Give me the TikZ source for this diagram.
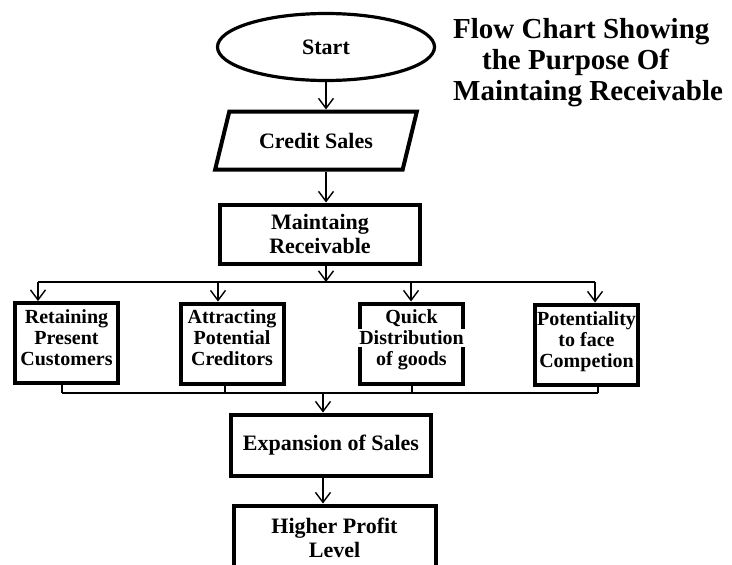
\documentclass[tikz,border=0pt]{standalone}
\usepackage{fontspec}
\setmainfont{Liberation Serif}
\usetikzlibrary{arrows.meta,shapes.geometric}
\setlength{\fboxsep}{2pt}

\begin{document}
\begin{tikzpicture}[x=1pt,y=-1pt,
  >={Straight Barb[length=10pt,width=15pt]},
  line/.style={line width=1.4pt},
  arr/.style={line width=1.4pt,->},
  bigbox/.style={draw,line width=4pt,minimum width=200pt,minimum height=60pt,inner sep=0pt,align=center,font=\fontsize{22}{24}\selectfont\bfseries},
  smallbox/.style={draw,line width=4pt,minimum width=103pt,minimum height=80pt,inner sep=0pt},
  boxtext/.style={anchor=north,inner sep=0pt,align=center,font=\fontsize{20}{21}\selectfont\bfseries}]
\path[use as bounding box,fill=white] (0,0) rectangle (732,565);
\node[anchor=north west,inner sep=0pt,align=left,font=\fontsize{29}{31}\selectfont\bfseries] (title) at (453,18) {Flow Chart Showing\\\hspace*{29pt}the Purpose Of\\Maintaing Receivable};
\node[draw,ellipse,line width=3.2pt,minimum width=217pt,minimum height=67pt,inner sep=0pt,font=\fontsize{22}{24}\selectfont\bfseries] (start) at (326,47) {Start};
\node[draw,trapezium,trapezium left angle=59,trapezium right angle=121,trapezium stretches=true,line width=4pt,minimum width=202pt,minimum height=58pt,inner sep=0pt,font=\fontsize{22}{24}\selectfont\bfseries] (credit) at (316,140.5) {Credit Sales};
\node[bigbox,minimum height=59pt] (maintain) at (320,234) {Maintaing\\Receivable};
\draw[arr] (start) -- (start |- credit.north);
\draw[arr] (credit.south -| start) -- (start |- maintain.north);
\coordinate (split) at (326,282);
\coordinate (d1) at (38,282);
\coordinate (d2) at (218,282);
\coordinate (d3) at (411,282);
\coordinate (d4) at (595,282);
\draw[arr] (maintain.south -| split) -- (split);
\draw[line] (d1) -- (d4);
\node[smallbox] (retain) at (66.5,343) {};
\node[smallbox] (attract) at (232,343.5) {};
\node[smallbox] (quick) at (411.5,343.5) {};
\node[smallbox] (compete) at (586.5,344.5) {};
\node[boxtext] (retaintxt) at ([yshift=-8pt]retain.north) {Retaining\\Present\\Customers};
\node[boxtext] (attracttxt) at ([yshift=-8pt]attract.north) {Attracting\\Potential\\Creditors};
\node[boxtext] (quicktxt) at ([yshift=-8pt]quick.north) {Quick\\\colorbox{white}{Distribution}\\of goods};
\node[boxtext] (competetxt) at ([yshift=-9pt]compete.north) {Potentiality\\to face\\Competion};
\draw[arr] (d1) -- (d1 |- retain.north);
\draw[arr] (d2) -- (d2 |- attract.north);
\draw[arr] (d3) -- (d3 |- quick.north);
\draw[arr] (d4) -- (d4 |- compete.north);
\coordinate (c1) at (62,393);
\coordinate (c2) at (225,393);
\coordinate (c3) at (412,393);
\coordinate (c4) at (598,393);
\coordinate (join) at (323,393);
\draw[line] (retain.south -| c1) -- (c1);
\draw[line] (attract.south -| c2) -- (c2);
\draw[line] (quick.south -| c3) -- (c3);
\draw[line] (compete.south -| c4) -- (c4);
\draw[line] (c1) -- (c4);
\node[bigbox,minimum height=61pt] (expand) at (331,445) {Expansion of Sales};
\node[bigbox,minimum width=202pt,minimum height=64pt] (profit) at (334.5,537.5) {Higher Profit\\Level};
\draw[arr] (join) -- (join |- expand.north);
\draw[arr] (expand.south -| join) -- (join |- profit.north);
\end{tikzpicture}
\end{document}
